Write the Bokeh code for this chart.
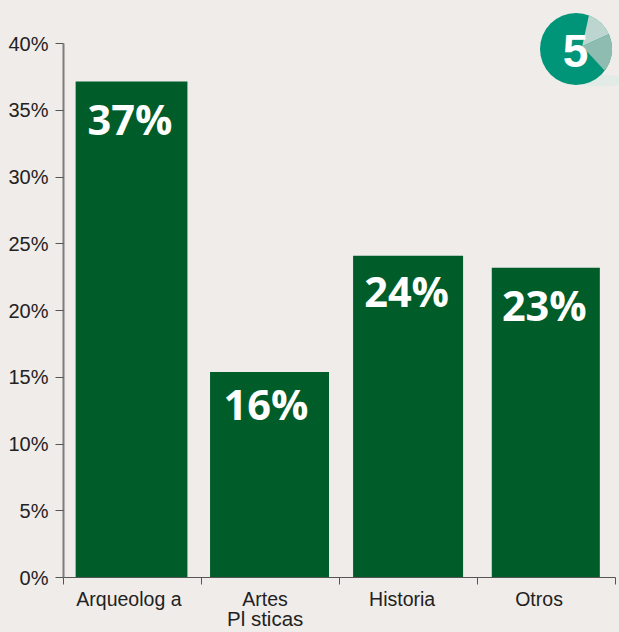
import numpy as np
from bokeh.plotting import figure, ColumnDataSource
from bokeh.models import FixedTicker, Range1d, LinearAxis
from bokeh.core.properties import value
from bokeh.embed import file_html
from bokeh.resources import INLINE

# data
categories = ["Arqueolog a", "Artes", "Historia", "Otros"]
category_second_line = "Pl sticas"
values = [37.15, 15.4, 24.1, 23.2]
value_labels = ["37%", "16%", "24%", "23%"]
y_ticks = [0, 5, 10, 15, 20, 25, 30, 35, 40]
y_tick_labels = ["0%", "5%", "10%", "15%", "20%", "25%", "30%", "35%", "40%"]
# the icon's pie: angles on the circle (degrees)
icon_slice_angles = [(24, 69), (-37, 24)]

# layout
W, H = 619, 632
BG = "#f0ecea"
PX_X = 138.0      # px per category
PX_Y = 534 / 40   # px per percent
FRAME_L, FRAME_B = 63, 55
bar_centers = [0.493, 1.493, 2.497, 3.495]
bar_widths = [0.81, 0.862, 0.797, 0.783]
label_dx = [-1.5, -3.5, -1.5, -1.5]
label_dy = [37, 32, 35, 37]
label_centers = [0.474, 1.461, 2.454, 3.446]

x_max = (W - FRAME_L) / PX_X
y_max = (H - FRAME_B) / PX_Y
p = figure(width=W, height=H, output_backend="svg", toolbar_location=None,
           x_range=Range1d(0, x_max), y_range=Range1d(0, y_max),
           min_border_left=FRAME_L, min_border_bottom=FRAME_B,
           min_border_top=0, min_border_right=0,
           background_fill_color=BG, border_fill_color=BG, outline_line_color=None)
p.grid.visible = False

src = ColumnDataSource(dict(x=bar_centers, w=bar_widths, top=values, lab=value_labels,
                            dx=label_dx, dy=label_dy))
p.vbar(x="x", width="w", top="top", bottom=0, source=src, fill_color="#005c29", line_color=None)
p.text(x="x", y="top", text="lab", x_offset="dx", y_offset="dy", source=src,
       text_font=value("Open Sans"), text_font_style="bold", text_font_size="41.5px",
       text_color="white", text_align="center", text_baseline="middle")

# axes
ya = p.yaxis[0]
ya.bounds = (0, 40)
ya.ticker = FixedTicker(ticks=y_ticks)
ya.major_label_overrides = {t: l for t, l in zip(y_ticks, y_tick_labels)}
ya.major_tick_in = 0
ya.major_tick_out = 8
ya.minor_tick_line_color = None
ya.axis_line_color = "#7d7d7d"
ya.axis_line_width = 2
ya.major_tick_line_color = "#555555"
ya.major_tick_line_width = 1
ya.major_label_standoff = 7
ya.major_label_text_font = "Liberation Sans"
ya.major_label_text_font_size = "20px"
ya.major_label_text_color = "#222222"

xa = p.xaxis[0]
xa.bounds = (0, 4)
xa.ticker = FixedTicker(ticks=label_centers, minor_ticks=[0, 1, 2, 3, 4])
xa.major_label_overrides = {t: l for t, l in zip(label_centers, categories)}
xa.major_tick_line_color = None
xa.major_tick_in = 0
xa.major_tick_out = 0
xa.minor_tick_in = 0
xa.minor_tick_out = 7
xa.minor_tick_line_color = "#555555"
xa.axis_line_color = "#555555"
xa.axis_line_width = 1
xa.major_label_standoff = 3
xa.major_label_text_font = "Liberation Sans"
xa.major_label_text_font_size = "19.5px"
xa.major_label_text_color = "#222222"

# second line of the two-line category label
xb = LinearAxis(ticker=FixedTicker(ticks=[label_centers[1]]),
                major_label_overrides={label_centers[1]: category_second_line},
                axis_line_color=None, major_tick_line_color=None, minor_tick_line_color=None,
                major_tick_in=0, major_tick_out=0, minor_tick_in=0, minor_tick_out=0,
                major_label_standoff=-6,
                major_label_text_font="Liberation Sans", major_label_text_font_size="20.5px",
                major_label_text_color="#222222")
p.add_layout(xb, "below")

# icon
def dx(px): return (px - FRAME_L) / PX_X
def dy(py): return (H - FRAME_B - py) / PX_Y
cx, cy, r = 575.5, 48.5, 36.0
ax, ay = 581.7, 45.7
p.ellipse(x=[dx(600)], y=[dy(80)], width=[52], height=[12], width_units="screen",
          height_units="screen", fill_color="#e2ebe5", line_color=None)
p.scatter(x=[dx(cx)], y=[dy(cy)], size=2 * r, marker="circle", fill_color="#009579", line_color=None)
for (a0, a1), col in zip(icon_slice_angles, ["#bcd6cf", "#8fbcb0"]):
    t = np.radians(np.linspace(a0, a1, 40))
    xs = [dx(ax)] + list(dx(cx + r * np.cos(t)))
    ys = [dy(ay)] + list(dy(cy - r * np.sin(t)))
    p.patch(xs, ys, fill_color=col, line_color=None)
p.text(x=[dx(575)], y=[dy(50)], text=["5"], text_font=value("Liberation Sans"),
       text_font_style="bold", text_font_size="46px", text_color="white",
       text_align="center", text_baseline="middle")

css = "<style>html,body{margin:0;padding:0;overflow:hidden;background:%s}</style></head>" % BG
open("out.html", "w").write(file_html(p, INLINE).replace("</head>", css, 1))
